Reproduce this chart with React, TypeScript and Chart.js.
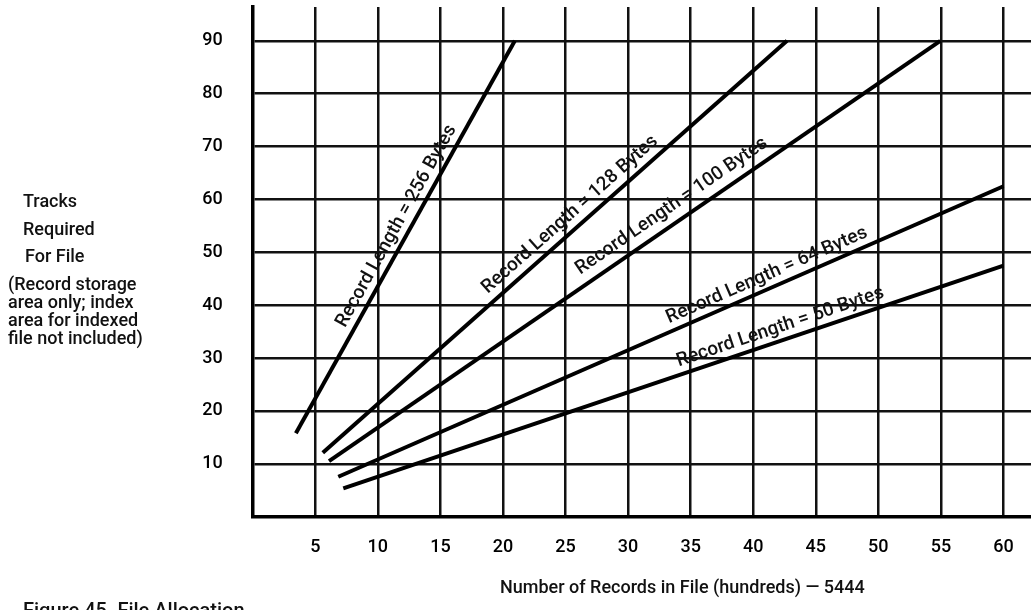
import React, { useEffect, useRef } from "react";
import { Chart, registerables } from "chart.js";

Chart.register(...registerables);

// ---- data ----
const recordLengths = ["256", "128", "100", "64", "50"];
const xStart = [3.45, 5.6, 6.1, 6.84, 7.24];
const yStart = [15.8, 12.1, 10.5, 7.56, 5.37];
const xEnd = [20.95, 42.7, 54.95, 60, 60];
const yEnd = [90, 90, 90, 62.5, 47.5];
const xTicks = [0, 5, 10, 15, 20, 25, 30, 35, 40, 45, 50, 55, 60];
const yTicks = [0, 10, 20, 30, 40, 50, 60, 70, 80, 90];

// label placement along each line (x value of label centre, perpendicular offset)
const labelCenterX = [12.4, 26.1, 34.2, 41.5, 42.5];
const labelOffset = [13, 14, 16, 13, 13];

const FONT = "Roboto, 'Liberation Sans', Arial, sans-serif";

const lineLabels = {
  id: "lineLabels",
  afterDatasetsDraw(chart: any) {
    const { ctx, scales } = chart;
    const xs = scales.x;
    const ys = scales.y;
    ctx.save();
    ctx.fillStyle = "#111";
    ctx.font = `500 19px ${FONT}`;
    ctx.textAlign = "center";
    ctx.textBaseline = "middle";
    recordLengths.forEach((r, i) => {
      const x1 = xs.getPixelForValue(xStart[i]);
      const y1 = ys.getPixelForValue(yStart[i]);
      const x2 = xs.getPixelForValue(xEnd[i]);
      const y2 = ys.getPixelForValue(yEnd[i]);
      const a = Math.atan2(y2 - y1, x2 - x1);
      const t = (labelCenterX[i] - xStart[i]) / (xEnd[i] - xStart[i]);
      const yv = yStart[i] + t * (yEnd[i] - yStart[i]);
      const cx = xs.getPixelForValue(labelCenterX[i]);
      const cy = ys.getPixelForValue(yv);
      const nx = Math.sin(a);
      const ny = -Math.cos(a);
      ctx.save();
      ctx.translate(cx + labelOffset[i] * nx, cy + labelOffset[i] * ny);
      ctx.rotate(a);
      ctx.fillText(`Record Length = ${r} Bytes`, 0, 0);
      ctx.restore();
    });
    ctx.restore();
  },
};

const leftLines = [
  { text: "Tracks", x: 23, y: 201 },
  { text: "Required", x: 23, y: 229 },
  { text: "For File", x: 25, y: 256 },
  { text: "(Record storage", x: 8, y: 284 },
  { text: "area only; index", x: 8, y: 302 },
  { text: "area for indexed", x: 8, y: 320 },
  { text: "file not included)", x: 8, y: 338 },
];

export default function App() {
  const ref = useRef<HTMLCanvasElement | null>(null);
  useEffect(() => {
    if (!ref.current) return;
    const chart = new Chart(ref.current, {
      type: "scatter",
      data: {
        datasets: recordLengths.map((r, i) => ({
          label: `Record Length = ${r} Bytes`,
          data: [
            { x: xStart[i], y: yStart[i] },
            { x: xEnd[i], y: yEnd[i] },
          ],
          showLine: true,
          borderColor: "#000",
          backgroundColor: "#000",
          borderWidth: 4,
          pointRadius: 0,
          borderCapStyle: "butt",
        })),
      },
      options: {
        animation: false,
        responsive: false,
        maintainAspectRatio: false,
        layout: { padding: { top: 7, right: 0, left: 0, bottom: 0 } },
        plugins: { legend: { display: false }, tooltip: { enabled: false } },
        scales: {
          x: {
            type: "linear",
            min: 0,
            max: 62.2,
            afterBuildTicks: (s: any) => {
              s.ticks = xTicks.map((v) => ({ value: v }));
            },
            afterFit: (s: any) => {
              s.height = 93.3;
              s.paddingLeft = 0;
              s.paddingRight = 0;
              s.paddingTop = 0;
              s.paddingBottom = 0;
            },
            ticks: {
              padding: 20,
              color: "#000",
              font: { family: FONT, size: 18, weight: "500" },
              callback: (v: any) => (v === 0 ? "" : String(v)),
              maxRotation: 0,
              autoSkip: false,
            },
            grid: { color: "#111", lineWidth: 2.5, drawTicks: false },
            border: { display: true, color: "#000", width: 3.5 },
          },
          y: {
            type: "linear",
            min: 0,
            max: 96.4,
            afterBuildTicks: (s: any) => {
              s.ticks = yTicks.map((v) => ({ value: v }));
            },
            afterFit: (s: any) => {
              s.width = 252.7;
              s.paddingLeft = 0;
              s.paddingRight = 0;
              s.paddingTop = 0;
              s.paddingBottom = 0;
            },
            ticks: {
              padding: 30,
              color: "#000",
              font: { family: FONT, size: 18, weight: "500" },
              callback: (v: any) => (v === 0 ? "" : String(v)),
              autoSkip: false,
            },
            grid: { color: "#111", lineWidth: 2.5, drawTicks: false },
            border: { display: true, color: "#000", width: 3.5 },
          },
        },
      },
      plugins: [lineLabels],
    } as any);
    return () => chart.destroy();
  }, []);

  return (
    <div
      style={{
        position: "fixed",
        left: 0,
        top: 0,
        width: 1031,
        height: 610,
        background: "#fff",
        overflow: "hidden",
        fontFamily: FONT,
        fontWeight: 500,
        color: "#111",
      }}
    >
      <canvas ref={ref} width={1031} height={610} style={{ position: "absolute", left: 0, top: 0 }} />
      {leftLines.map((l) => (
        <div
          key={l.text}
          style={{
            position: "absolute",
            left: l.x,
            top: l.y,
            transform: "translateY(-50%)",
            fontSize: 18,
            lineHeight: 1,
            whiteSpace: "nowrap",
          }}
        >
          {l.text}
        </div>
      ))}
      <div
        style={{
          position: "absolute",
          left: 500,
          top: 587,
          transform: "translateY(-50%)",
          fontSize: 18,
          lineHeight: 1,
          whiteSpace: "nowrap",
        }}
      >
        Number of Records in File (hundreds) — 5444
      </div>
      <div
        style={{
          position: "absolute",
          left: 23,
          top: 600,
          fontSize: 20,
          lineHeight: 1,
          whiteSpace: "nowrap",
        }}
      >
        Figure 45. File Allocation
      </div>
    </div>
  );
}
